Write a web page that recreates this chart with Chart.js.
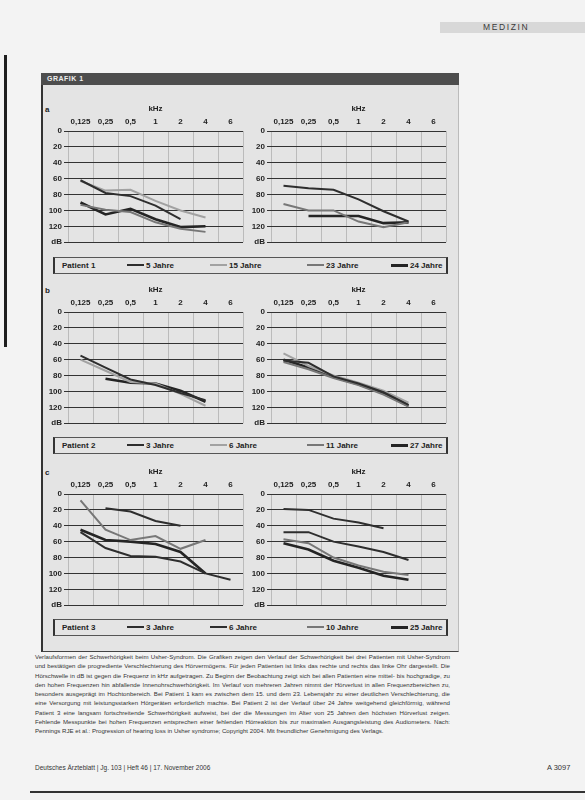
<!DOCTYPE html>
<html lang="de">
<head>
<meta charset="utf-8">
<title>Grafik 1</title>
<script src="https://cdn.jsdelivr.net/npm/chart.js@4.4.1/dist/chart.umd.min.js"></script>
<style>
  body { margin: 0; width: 585px; height: 800px; background: #f3f3f3; position: relative; overflow: hidden;
         font-family: "Liberation Sans", Arial, sans-serif; color: #222; }
  .abs { position: absolute; }
  #binding { left: 4px; top: 55px; width: 3px; height: 292px; background: #1e1e1e; }
  #section { left: 440px; top: 22px; width: 145px; height: 11px; background: #d8d8d8; }
  #section span { position: absolute; left: 43px; top: 0; font-size: 8.5px; line-height: 11px; letter-spacing: 1.6px; color: #3a3a3a; }
  #figure { left: 41px; top: 73px; width: 415px; height: 578px; background: #e4e4e4; border-left: 2px solid #333; border-bottom: 1px solid #444; border-right: 1px solid #bbb; }
  #figHead { left: 41px; top: 73px; width: 418px; height: 12px; background: #4d4d4d; }
  #figHead span { position: absolute; left: 6px; top: 0; font-size: 7px; line-height: 12px; font-weight: bold; color: #eee; letter-spacing: .5px; }
  .letter { position: absolute; left: 45px; font-size: 8px; font-weight: bold; line-height: 10px; }
  canvas { position: absolute; }
  .legend { position: absolute; left: 53px; width: 391px; height: 15px; border: 1px solid #555; border-left: 2px solid #333; border-right: 2px solid #333; font-size: 8px; font-weight: bold; }
  .legend .lbl { position: absolute; top: 0; line-height: 15px; white-space: nowrap; }
  .legend .ln { position: absolute; top: 6px; height: 2px; width: 17px; }
  #caption { left: 35px; top: 652px; width: 415px; font-size: 6.1px; line-height: 9.3px; text-align: justify; color: #333; }
  #footer { left: 35px; top: 764px; font-size: 6.5px; color: #333; }
  #page { left: 547px; top: 763px; font-size: 7.5px; color: #333; }
  #rule { left: 30px; top: 791px; width: 555px; height: 2px; background: #333; }
</style>
</head>
<body>
<div id="binding" class="abs"></div>
<div id="section" class="abs"><span>MEDIZIN</span></div>
<div id="figure" class="abs"></div>
<div id="figHead" class="abs"><span>GRAFIK 1</span></div>
<div id="caption" class="abs">Verlaufsformen der Schwerhörigkeit beim Usher-Syndrom. Die Grafiken zeigen den Verlauf der Schwerhörigkeit bei drei Patienten mit Usher-Syndrom und bestätigen die progrediente Verschlechterung des Hörvermögens. Für jeden Patienten ist links das rechte und rechts das linke Ohr dargestellt. Die Hörschwelle in dB ist gegen die Frequenz in kHz aufgetragen. Zu Beginn der Beobachtung zeigt sich bei allen Patienten eine mittel- bis hochgradige, zu den hohen Frequenzen hin abfallende Innenohrschwerhörigkeit. Im Verlauf von mehreren Jahren nimmt der Hörverlust in allen Frequenzbereichen zu, besonders ausgeprägt im Hochtonbereich. Bei Patient 1 kam es zwischen dem 15. und dem 23. Lebensjahr zu einer deutlichen Verschlechterung, die eine Versorgung mit leistungsstarken Hörgeräten erforderlich machte. Bei Patient 2 ist der Verlauf über 24 Jahre weitgehend gleichförmig, während Patient 3 eine langsam fortschreitende Schwerhörigkeit aufweist, bei der die Messungen im Alter von 25 Jahren den höchsten Hörverlust zeigen. Fehlende Messpunkte bei hohen Frequenzen entsprechen einer fehlenden Hörreaktion bis zur maximalen Ausgangsleistung des Audiometers. Nach: Pennings RJE et al.: Progression of hearing loss in Usher syndrome; Copyright 2004. Mit freundlicher Genehmigung des Verlags.</div>
<div id="footer" class="abs">Deutsches Ärzteblatt | Jg. 103 | Heft 46 | 17. November 2006</div>
<div id="page" class="abs">A 3097</div>
<div id="rule" class="abs"></div>

<script>
// axis labels
const freqLabels = ['0,125', '0,25', '0,5', '1', '2', '4', '6'];
const dbTicks = [0, 20, 40, 60, 80, 100, 120, 140];
const dbTickLabels = ['0', '20', '40', '60', '80', '100', '120', 'dB'];

// Patient 1
const p1Ages = ['5 Jahre', '15 Jahre', '23 Jahre', '24 Jahre'];
const p1Left5 = [62, 78, 82, 94, 111, null, null];
const p1Left15 = [63, 75, 74, 88, 100, 109, null];
const p1Left23 = [93, 99, 102, 115, 123, 127, null];
const p1Left24 = [90, 105, 98, 111, 121, 120, null];
const p1Right5 = [69, 72, 74, 86, 101, 114, null];
const p1Right23 = [92, 100, 100, 114, 121, 115, null];
const p1Right24 = [null, 107, 107, 107, 116, 115, null];

// Patient 2
const p2Ages = ['3 Jahre', '6 Jahre', '11 Jahre', '27 Jahre'];
const p2Left3 = [55, 70, 85, 92, 102, 111, null];
const p2Left6 = [60, 74, 88, 90, 103, 118, null];
const p2Left27 = [null, 84, 89, 90, 99, 113, null];
const p2Right3 = [61, 64, 81, 90, 101, 117, null];
const p2Right6 = [52, 68, 80, 89, 99, 114, null];
const p2Right11 = [63, 72, 83, 92, 104, 119, null];
const p2Right27 = [60, 70, 82, 91, 102, 118, null];

// Patient 3
const p3Ages = ['3 Jahre', '6 Jahre', '10 Jahre', '25 Jahre'];
const p3Left3 = [null, 18, 22, 34, 40, null, null];
const p3Left6 = [48, 68, 78, 79, 85, 100, 108];
const p3Left10 = [8, 45, 58, 53, 69, 58, null];
const p3Left25 = [45, 58, 60, 63, 73, 100, null];
const p3Right3 = [19, 20, 31, 36, 43, null, null];
const p3Right6 = [48, 48, 60, 66, 73, 83, null];
const p3Right10 = [57, 62, 80, 90, 98, 102, null];
const p3Right25 = [62, 70, 84, 93, 103, 108, null];

// grey tones of the scanned print
const lineStyles = {
    dark:  { color: '#2e2e2e', width: 2 },
    mid:   { color: '#777777', width: 2 },
    light: { color: '#a2a2a2', width: 2 },
    thick: { color: '#242424', width: 2.6 }
};
const p1Styles = ['dark', 'light', 'mid', 'thick'];
const p2Styles = ['dark', 'light', 'mid', 'thick'];
const p3Styles = ['dark', 'dark', 'mid', 'thick'];

const rows = [
    { letter: 'a', patient: 'Patient 1', top: 131, legendTop: 257, ages: p1Ages, styles: p1Styles,
      left: [p1Left5, p1Left15, p1Left23, p1Left24], right: [p1Right5, null, p1Right23, p1Right24] },
    { letter: 'b', patient: 'Patient 2', top: 312, legendTop: 437, ages: p2Ages, styles: p2Styles,
      left: [p2Left3, p2Left6, null, p2Left27], right: [p2Right3, p2Right6, p2Right11, p2Right27] },
    { letter: 'c', patient: 'Patient 3', top: 494, legendTop: 619, ages: p3Ages, styles: p3Styles,
      left: [p3Left3, p3Left6, p3Left10, p3Left25], right: [p3Right3, p3Right6, p3Right10, p3Right25] }
];

const axisFont = { family: '"Liberation Sans Narrow", "Liberation Sans", Arial, sans-serif', size: 8, weight: 'bold' };

function makeChart(x, plotTop, seriesList, row) {
    const canvas = document.createElement('canvas');
    canvas.width = 207;
    canvas.height = 148;
    canvas.style.left = x + 'px';
    canvas.style.top = (plotTop - 30) + 'px';
    document.body.appendChild(canvas);

    const datasets = [];
    seriesList.forEach((values, i) => {
        if (!values) return;
        const st = lineStyles[row.styles[i]];
        datasets.push({
            label: row.ages[i],
            data: values,
            borderColor: st.color,
            borderWidth: st.width,
            pointRadius: 0,
            tension: 0,
            spanGaps: false
        });
    });

    new Chart(canvas.getContext('2d'), {
        type: 'line',
        data: { labels: freqLabels, datasets: datasets },
        options: {
            responsive: false,
            animation: false,
            layout: { padding: { left: 0, right: 6, top: 0, bottom: 5 } },
            plugins: { legend: { display: false }, tooltip: { enabled: false } },
            scales: {
                x: {
                    position: 'top',
                    offset: true,
                    grid: { offset: true, color: 'rgba(40,40,40,0.22)', drawTicks: false },
                    border: { display: false },
                    ticks: { color: '#1e1e1e', font: axisFont, padding: 4, maxRotation: 0, autoSkip: false },
                    title: { display: true, text: 'kHz', color: '#1e1e1e', font: axisFont, padding: { top: 3, bottom: 0 } },
                    afterFit: (s) => { s.height = 30; }
                },
                y: {
                    reverse: true,
                    min: 0,
                    max: 140,
                    ticks: {
                        stepSize: 20,
                        color: '#1e1e1e',
                        font: axisFont,
                        padding: 2,
                        callback: (v) => dbTickLabels[dbTicks.indexOf(v)]
                    },
                    grid: { color: '#333333', lineWidth: 1, tickLength: 4 },
                    border: { display: false },
                    afterFit: (s) => { s.width = 26; }
                }
            }
        }
    });
}

function makeLegend(row) {
    const box = document.createElement('div');
    box.className = 'legend';
    box.style.top = row.legendTop + 'px';
    const p = document.createElement('span');
    p.className = 'lbl';
    p.style.left = '7px';
    p.textContent = row.patient;
    box.appendChild(p);
    const lineX = [72, 155, 252, 336];
    row.ages.forEach((age, i) => {
        const st = lineStyles[row.styles[i]];
        const ln = document.createElement('div');
        ln.className = 'ln';
        ln.style.left = lineX[i] + 'px';
        ln.style.background = st.color;
        ln.style.height = st.width + 'px';
        box.appendChild(ln);
        const t = document.createElement('span');
        t.className = 'lbl';
        t.style.left = (lineX[i] + 19) + 'px';
        t.textContent = age;
        box.appendChild(t);
    });
    document.body.appendChild(box);
}

rows.forEach(row => {
    const letter = document.createElement('div');
    letter.className = 'letter';
    letter.style.top = (row.top - 26) + 'px';
    letter.textContent = row.letter;
    document.body.appendChild(letter);

    makeChart(42, row.top, row.left, row);
    makeChart(245, row.top, row.right, row);
    makeLegend(row);
});
</script>
</body>
</html>
